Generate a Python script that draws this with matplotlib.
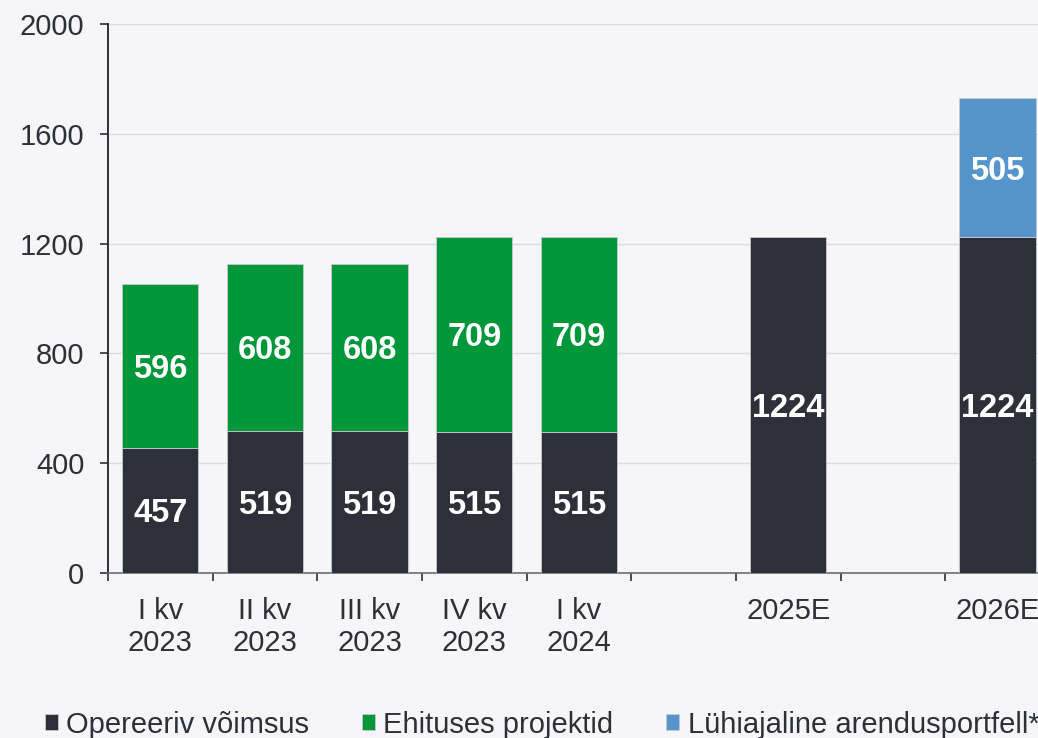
import matplotlib.pyplot as plt
import numpy as np

plt.rcParams['font.family'] = ['Liberation Sans', 'DejaVu Sans']

# andmed
kategooriad = ['I kv\n2023', 'II kv\n2023', 'III kv\n2023', 'IV kv\n2023', 'I kv\n2024',
               '', '2025E', '', '2026E']
opereeriv = [457, 519, 519, 515, 515, np.nan, 1224, np.nan, 1224]
ehituses = [596, 608, 608, 709, 709, np.nan, np.nan, np.nan, np.nan]
arendus = [np.nan, np.nan, np.nan, np.nan, np.nan, np.nan, np.nan, np.nan, 505]
seeriad = ['Opereeriv võimsus', 'Ehituses projektid', 'Lühiajaline arendusportfell*']
y_ticks = [0, 400, 800, 1200, 1600, 2000]

c_tume = '#2d3038'
c_roheline = '#00963a'
c_sinine = '#5694cc'
taust = '#f6f6f9'
tekst = '#2d3038'

fig = plt.figure(figsize=(10.38, 7.38), dpi=100, facecolor=taust)
ax = fig.add_axes([0.104, 0.2236, 0.9075, 0.7439], facecolor=taust)

x = np.arange(len(kategooriad))
op = np.array(opereeriv, dtype=float)
eh = np.array(ehituses, dtype=float)
ar = np.array(arendus, dtype=float)

w = 0.73
ec = '#c8c8cc'
b1 = ax.bar(x, op, w, color=c_tume, edgecolor=ec, linewidth=0.6, label=seeriad[0], zorder=3)
b2 = ax.bar(x, eh, w, bottom=np.nan_to_num(op), color=c_roheline, edgecolor=ec,
            linewidth=0.6, label=seeriad[1], zorder=3)
pohi = np.nan_to_num(op) + np.nan_to_num(eh)
b3 = ax.bar(x, ar, w, bottom=pohi, color=c_sinine, edgecolor=ec, linewidth=0.6,
            label=seeriad[2], zorder=3)

# väärtused keskele
for vals, alus in [(op, np.zeros(len(x))), (eh, np.nan_to_num(op)), (ar, pohi)]:
    for xi, v, a in zip(x, vals, alus):
        if not np.isnan(v):
            ax.text(xi, a + v / 2, f'{int(v)}', ha='center', va='center_baseline',
                    color='white', fontsize=23.5, fontweight='bold', zorder=4)

ax.set_ylim(0, 2000)
ax.set_xlim(-0.5, len(x) - 0.5)
ax.set_yticks(y_ticks)
ax.set_yticklabels([str(t) for t in y_ticks])
ax.yaxis.grid(True, color='#dcdce2', linewidth=1.0, zorder=0)
ax.set_axisbelow(True)

ax.set_xticks(x)
ax.set_xticklabels(kategooriad, linespacing=1.22)
ax.set_xticks(np.arange(len(x) + 1) - 0.5, minor=True)
ax.tick_params(axis='x', which='major', length=0, pad=17, labelsize=21, labelcolor=tekst)
ax.tick_params(axis='x', which='minor', length=6, width=1.2, color=tekst, direction='out')
ax.tick_params(axis='y', length=6, width=1.2, color=tekst, pad=11, labelsize=21, labelcolor=tekst)

for s in ['top', 'right']:
    ax.spines[s].set_visible(False)
ax.spines['left'].set_color(tekst)
ax.spines['left'].set_linewidth(1.4)
ax.spines['bottom'].set_color('#6a6c74')
ax.spines['bottom'].set_linewidth(1.2)

leg = fig.legend(handles=[b1, b2, b3], labels=seeriad, loc='center left',
                 bbox_to_anchor=(0.043, 0.018), ncol=3, frameon=False, fontsize=21,
                 handlelength=0.46, handleheight=0.46, handletextpad=0.28, columnspacing=1.8,
                 borderpad=0, borderaxespad=0)
for t in leg.get_texts():
    t.set_color(tekst)

fig.savefig('out.png', dpi=100, facecolor=taust)
